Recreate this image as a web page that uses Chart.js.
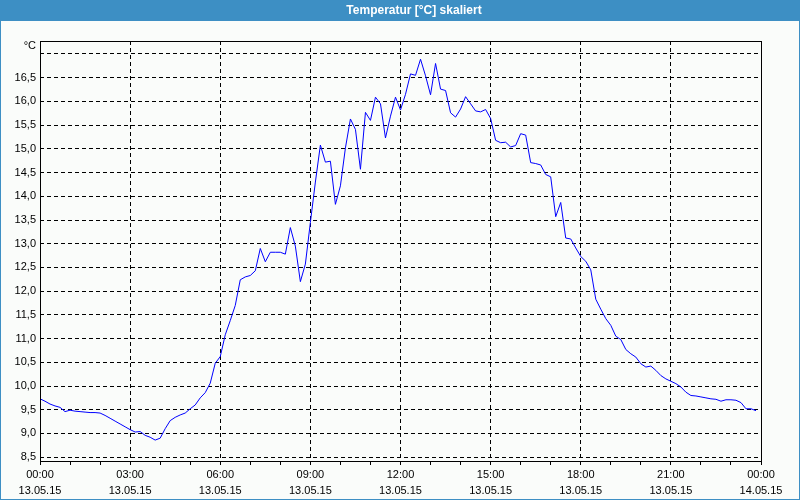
<!DOCTYPE html>
<html>
<head>
<meta charset="utf-8">
<script src="https://cdn.jsdelivr.net/npm/chart.js@4/dist/chart.umd.min.js"></script>
<style>
html,body{margin:0;padding:0;background:#fafcfa;}
#wrap{width:800px;height:500px;}
</style>
</head>
<body>
<div id="wrap"><canvas id="c" width="800" height="500"></canvas></div>
<script>
const titleText = 'Temperatur [°C] skaliert';
const yUnit = '°C';

const times = [
'00:00','00:10','00:20','00:30','00:40','00:50','01:00','01:10','01:20','01:30','01:40','01:50',
'02:00','02:10','02:20','02:30','02:40','02:50','03:00','03:10','03:20','03:30','03:40','03:50',
'04:00','04:10','04:20','04:30','04:40','04:50','05:00','05:10','05:20','05:30','05:40','05:50',
'06:00','06:10','06:20','06:30','06:40','06:50','07:00','07:10','07:20','07:30','07:40','07:50',
'08:00','08:10','08:20','08:30','08:40','08:50','09:00','09:10','09:20','09:30','09:40','09:50',
'10:00','10:10','10:20','10:30','10:40','10:50','11:00','11:10','11:20','11:30','11:40','11:50',
'12:00','12:10','12:20','12:30','12:40','12:50','13:00','13:10','13:20','13:30','13:40','13:50',
'14:00','14:10','14:20','14:30','14:40','14:50','15:00','15:10','15:20','15:30','15:40','15:50',
'16:00','16:10','16:20','16:30','16:40','16:50','17:00','17:10','17:20','17:30','17:40','17:50',
'18:00','18:10','18:20','18:30','18:40','18:50','19:00','19:10','19:20','19:30','19:40','19:50',
'20:00','20:10','20:20','20:30','20:40','20:50','21:00','21:10','21:20','21:30','21:40','21:50',
'22:00','22:10','22:20','22:30','22:40','22:50','23:00','23:10','23:20','23:30','23:40','23:50'
];

const temps = [
9.73, 9.68, 9.62, 9.58, 9.55, 9.46, 9.49, 9.47, 9.46, 9.45,
9.44, 9.44, 9.43, 9.38, 9.32, 9.26, 9.20, 9.14, 9.08, 9.03,
9.04, 8.96, 8.92, 8.86, 8.90, 9.10, 9.27, 9.34, 9.39, 9.43,
9.52, 9.60, 9.75, 9.86, 10.06, 10.48, 10.62, 11.08, 11.38, 11.70,
12.24, 12.30, 12.33, 12.43, 12.90, 12.62, 12.82, 12.82, 12.82, 12.78,
13.34, 12.95, 12.20, 12.57, 13.45, 14.30, 15.08, 14.72, 14.74, 13.83,
14.22, 15.02, 15.63, 15.41, 14.57, 15.77, 15.60, 16.09, 15.95, 15.23,
15.69, 16.09, 15.82, 16.15, 16.58, 16.55, 16.89, 16.54, 16.14, 16.80,
16.26, 16.23, 15.76, 15.67, 15.84, 16.10, 15.95, 15.80, 15.78, 15.83,
15.64, 15.18, 15.13, 15.14, 15.04, 15.07, 15.32, 15.29, 14.71, 14.69,
14.66, 14.46, 14.41, 13.57, 13.87, 13.12, 13.10, 12.91, 12.73, 12.63,
12.45, 11.83, 11.62, 11.42, 11.28, 11.05, 10.98, 10.77, 10.68, 10.61,
10.47, 10.40, 10.42, 10.33, 10.22, 10.15, 10.10, 10.05, 9.98, 9.87,
9.80, 9.79, 9.77, 9.75, 9.73, 9.72, 9.68, 9.71, 9.71, 9.70,
9.65, 9.52, 9.52, 9.48
];

const xTickTimes = ['00:00','03:00','06:00','09:00','12:00','15:00','18:00','21:00','00:00'];
const xTickDates = ['13.05.15','13.05.15','13.05.15','13.05.15','13.05.15','13.05.15','13.05.15','13.05.15','14.05.15'];
const yTicks = [8.5,9.0,9.5,10.0,10.5,11.0,11.5,12.0,12.5,13.0,13.5,14.0,14.5,15.0,15.5,16.0,16.5,17.0];

const yMin = 8.419, yMax = 17.274;
const FONT = '"Liberation Sans", Arial, sans-serif';

function toHours(t){ const p = t.split(':'); return parseInt(p[0],10) + parseInt(p[1],10)/60; }
const points = times.map((t,i)=>({x: toHours(t), y: temps[i]}));

const frame = {
  id: 'frame',
  afterLayout(chart){
    if (chart.titleBlock) { chart.titleBlock.left += 28; }
  },
  beforeDraw(chart){
    const c = chart.ctx;
    c.save();
    c.fillStyle = '#fafcfa';
    c.fillRect(0,0,chart.width,chart.height);
    c.fillStyle = '#3d8fc4';
    c.fillRect(0,0,chart.width,21);
    c.strokeStyle = '#3d8fc4';
    c.lineWidth = 1;
    c.strokeRect(0.5,0.5,chart.width-1,chart.height-1);
    c.restore();
  },
  afterDraw(chart){
    const a = chart.chartArea, c = chart.ctx;
    c.save();
    c.strokeStyle = '#000';
    c.lineWidth = 1;
    c.strokeRect(Math.round(a.left)+0.5, Math.round(a.top)+0.5, Math.round(a.right-a.left), Math.round(a.bottom-a.top));
    c.restore();
  }
};

new Chart(document.getElementById('c'), {
  type: 'line',
  data: {
    datasets: [{
      data: points,
      borderColor: '#0000ff',
      borderWidth: 1,
      pointRadius: 0,
      tension: 0,
      fill: false
    }]
  },
  options: {
    responsive: false,
    devicePixelRatio: 1,
    animation: false,
    layout: { padding: 0 },
    plugins: {
      legend: {display: false},
      tooltip: {enabled: false},
      title: {
        display: true,
        text: titleText,
        color: '#ffffff',
        font: {family: FONT, size: 12, weight: 'bold', lineHeight: 1.2},
        padding: {top: 3, bottom: 23.6}
      }
    },
    scales: {
      x: {
        type: 'linear',
        position: 'bottom',
        min: 0, max: 24,
        afterFit: s => { s.height = 39; },
        ticks: {
          stepSize: 1,
          autoSkip: false,
          maxRotation: 0,
          minRotation: 0,
          padding: 2,
          color: '#000',
          font: {family: FONT, size: 11, lineHeight: '16px'},
          callback: v => (Math.round(v) % 3 === 0) ? [xTickTimes[Math.round(v)/3], xTickDates[Math.round(v)/3]] : ''
        },
        grid: {
          color: ctx => (ctx.tick && ctx.tick.value % 3 === 0 && ctx.tick.value > 0 && ctx.tick.value < 24) ? '#000' : 'rgba(0,0,0,0)',
          tickColor: '#000',
          tickLength: 4,
          lineWidth: 1,
          tickBorderDash: [],
          borderDash: [4,3]
        },
        border: {display: false, dash: [4,3]}
      },
      y: {
        type: 'linear',
        position: 'left',
        min: yMin, max: yMax,
        afterFit: s => { s.width = 40; },
        afterBuildTicks: s => { s.ticks = yTicks.concat([yMax]).map(v => ({value: v})); },
        ticks: {
          autoSkip: false,
          padding: 4,
          color: '#000',
          font: ctx => ({family: FONT, size: 11, lineHeight: (ctx.tick && ctx.tick.value === yMax) ? '10px' : 1.2}),
          callback: v => {
            if (v === yMax) return ['', yUnit];
            if (Math.abs(v - 17) < 1e-6) return '';
            return v.toFixed(1).replace('.', ',');
          }
        },
        grid: {
          drawTicks: false,
          color: ctx => (ctx.tick && ctx.tick.value !== yMax) ? '#000' : 'rgba(0,0,0,0)',
          lineWidth: 1,
          borderDash: [4,3]
        },
        border: {display: false, dash: [4,3]}
      },
      y2: {
        type: 'linear',
        position: 'right',
        display: true,
        afterFit: s => { s.width = 39; },
        ticks: {display: false},
        grid: {display: false},
        border: {display: false}
      }
    }
  },
  plugins: [frame]
});
</script>
</body>
</html>
